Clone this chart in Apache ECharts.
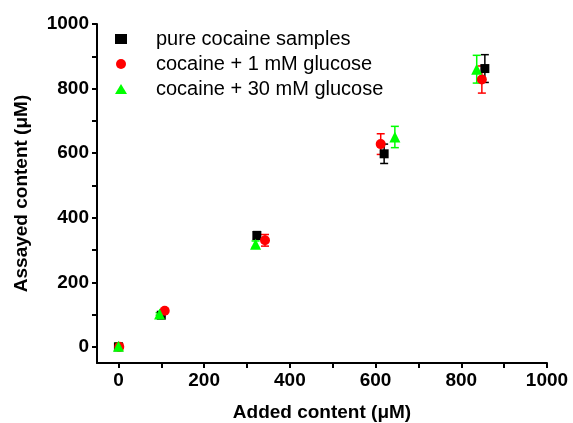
<!DOCTYPE html>
<html>
<head>
<meta charset="utf-8">
<script src="https://cdn.jsdelivr.net/npm/echarts@6/dist/echarts.min.js"></script>
<style>
  html, body { margin: 0; padding: 0; background: #fff; }
  #chart { width: 573px; height: 423px; }
</style>
</head>
<body>
<div id="chart"></div>
<script>
const seriesNames = ['pure cocaine samples', 'cocaine + 1 mM glucose', 'cocaine + 30 mM glucose'];

// added (x), assayed (y), error (±)
const pureX = [0, 100, 323, 620, 855];
const pureY = [0, 98, 345, 598, 862];
const pureErr = [4, 4, 12, 30, 43];

const glu1X = [2, 108, 342, 612, 848];
const glu1Y = [0, 112, 330, 628, 828];
const glu1Err = [10, 4, 18, 32, 42];

const glu30X = [0, 96, 320, 645, 836];
const glu30Y = [2, 102, 318, 650, 860];
const glu30Err = [10, 4, 10, 33, 43];

const tickValues = [0, 100, 200, 300, 400, 500, 600, 700, 800, 900, 1000];
const labelValues = [0, 200, 400, 600, 800, 1000];

const font = 'Liberation Sans, Arial, sans-serif';

function points(xs, ys) {
  return xs.map((x, i) => [x, ys[i]]);
}
function errData(xs, ys, es) {
  return xs.map((x, i) => [x, ys[i] - es[i], ys[i] + es[i]]);
}

function errorBars(data, color) {
  return {
    type: 'custom',
    data: data,
    silent: true,
    z: 1,
    renderItem: function (params, api) {
      const lo = api.coord([api.value(0), api.value(1)]);
      const hi = api.coord([api.value(0), api.value(2)]);
      const cap = 4;
      const style = { stroke: color, lineWidth: 1.5 };
      return {
        type: 'group',
        children: [
          { type: 'line', shape: { x1: lo[0], y1: lo[1], x2: hi[0], y2: hi[1] }, style: style },
          { type: 'line', shape: { x1: lo[0] - cap, y1: lo[1], x2: lo[0] + cap, y2: lo[1] }, style: style },
          { type: 'line', shape: { x1: hi[0] - cap, y1: hi[1], x2: hi[0] + cap, y2: hi[1] }, style: style }
        ]
      };
    }
  };
}

const axisCommon = {
  type: 'value',
  min: -50,
  max: 1000,
  splitLine: { show: false },
  axisLine: { show: true, onZero: false, lineStyle: { color: '#000', width: 2 } },
  axisTick: { show: true, length: 5, lineStyle: { color: '#000', width: 2 }, customValues: tickValues },
  axisLabel: {
    color: '#000', fontSize: 19, fontWeight: 'bold', fontFamily: font,
    customValues: labelValues, formatter: v => String(v)
  },
  nameLocation: 'middle',
  nameTextStyle: { color: '#000', fontSize: 19, fontWeight: 'bold', fontFamily: font }
};

const chart = echarts.init(document.getElementById('chart'));
chart.setOption({
  animation: false,
  backgroundColor: '#fff',
  grid: { left: 97, right: 26, top: 24, bottom: 60, containLabel: false, outerBoundsMode: 'none' },
  legend: {
    orient: 'vertical',
    left: 110,
    top: 24,
    itemWidth: 12,
    itemHeight: 10,
    itemGap: 5,
    textStyle: { color: '#000', fontSize: 20, fontFamily: font, padding: [0, 0, 0, 24] },
    data: seriesNames
  },
  xAxis: Object.assign({}, axisCommon, { name: 'Added content (μM)', nameGap: 40 }),
  yAxis: Object.assign({}, axisCommon, { name: 'Assayed content (μM)', nameGap: 66 }),
  series: [
    errorBars(errData(pureX, pureY, pureErr), '#000'),
    errorBars(errData(glu1X, glu1Y, glu1Err), '#ff0000'),
    errorBars(errData(glu30X, glu30Y, glu30Err), '#00ff00'),
    {
      name: seriesNames[0], type: 'scatter', symbol: 'rect', symbolSize: 9, z: 3,
      itemStyle: { color: '#000', opacity: 1 }, data: points(pureX, pureY)
    },
    {
      name: seriesNames[1], type: 'scatter', symbol: 'circle', symbolSize: 10, z: 3,
      itemStyle: { color: '#ff0000', opacity: 1 }, data: points(glu1X, glu1Y)
    },
    {
      name: seriesNames[2], type: 'scatter', symbol: 'triangle', symbolSize: 11, z: 3,
      itemStyle: { color: '#00ff00', opacity: 1 }, data: points(glu30X, glu30Y)
    }
  ]
});
</script>
</body>
</html>
